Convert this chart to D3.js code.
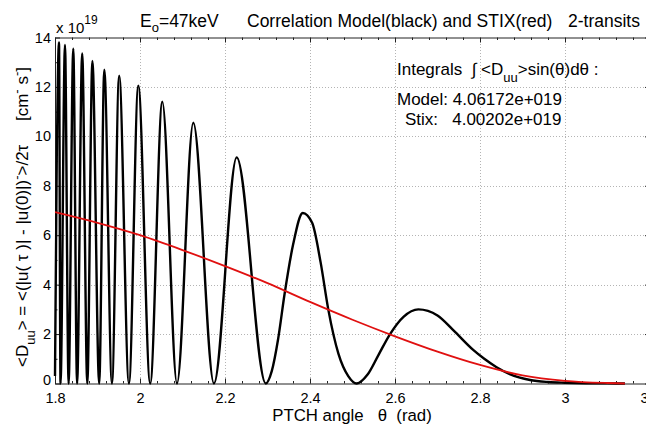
<!DOCTYPE html>
<html>
<head>
<meta charset="utf-8">
<script src="https://cdn.jsdelivr.net/npm/d3@7"></script>
<style>
html,body{margin:0;padding:0;background:#fff;overflow:hidden;}
svg{display:block;font-family:"Liberation Sans",Arial,sans-serif;}
</style>
</head>
<body>
<svg id="chart" width="646" height="424"></svg>
<script>
// ---- data ----
const xTicks = [1.8, 2.0, 2.2, 2.4, 2.6, 2.8, 3.0, 3.2];
const xTickLabels = ["1.8", "2", "2.2", "2.4", "2.6", "2.8", "3", "3.2"];
const yTicks = [0, 2, 4, 6, 8, 10, 12, 14];
const yTickLabels = ["0", "2", "4", "6", "8", "10", "12", "14"];

// Correlation model (black), values in units of 1e19
const modelTheta = [1.800, 1.8094, 1.813, 1.8235, 1.832, 1.843, 1.852, 1.864, 1.876, 1.888,
  1.904, 1.916, 1.934, 1.951, 1.974, 1.996, 2.024, 2.0525, 2.087, 2.1254, 2.174, 2.2275,
  2.296, 2.310, 2.325, 2.340, 2.360, 2.383, 2.405, 2.425, 2.443, 2.467, 2.490, 2.510,
  2.535, 2.561, 2.588, 2.620, 2.655, 2.700, 2.737, 2.784, 2.810, 2.839, 2.870, 2.918,
  2.960, 3.000, 3.050, 3.100, 3.141];
const modelD = [0.3, 13.8, 0, 13.7, 0, 13.55, 0, 13.35, 0, 13.05,
  0, 12.7, 0, 12.45, 0, 12.05, 0, 11.4, 0, 10.55, 0, 9.15,
  0, 0.5, 1.8, 3.6, 5.6, 6.9, 6.5, 4.9, 3.0, 1.2, 0.3, 0,
  0.35, 1.15, 1.99, 2.7, 3.0, 2.75, 2.16, 1.36, 1.0, 0.66, 0.38, 0.14,
  0.06, 0.03, 0.01, 0.005, 0];

// STIX (red)
const stixTheta = [1.8, 1.9, 2.0, 2.1, 2.2, 2.3, 2.4, 2.5, 2.6, 2.7, 2.8, 2.9, 3.0, 3.1, 3.141];
const stixD = [6.93, 6.5, 6.0, 5.4, 4.75, 4.06, 3.3, 2.58, 1.91, 1.29, 0.75, 0.33, 0.11, 0.02, 0.0];

const integralModel = "4.06172e+019";
const integralStix = "4.00202e+019";

// ---- drawing ----
const svg = d3.select("#chart");
const x = d3.scaleLinear().domain([1.8, 3.2]).range([55, 650]);
const y = d3.scaleLinear().domain([0, 14]).range([383.5, 37.5]);
const X0 = x.range()[0], X1 = x.range()[1], Y0 = y.range()[0], Y1 = y.range()[1];

// grid
const grid = svg.append("g").attr("stroke", "#b4b4b4").attr("stroke-width", 1)
  .attr("stroke-dasharray", "1,2").attr("shape-rendering", "crispEdges");
xTicks.slice(1, -1).forEach(t => grid.append("line")
  .attr("x1", Math.round(x(t)) + 0.5).attr("x2", Math.round(x(t)) + 0.5).attr("y1", Y0).attr("y2", Y1));
yTicks.slice(1, -1).forEach(t => grid.append("line")
  .attr("x1", X0).attr("x2", X1).attr("y1", Math.round(y(t)) + 0.5).attr("y2", Math.round(y(t)) + 0.5));

// axes (box) with inward ticks
const fmtX = d => xTickLabels[xTicks.findIndex(v => Math.abs(v - d) < 1e-9)];
const fmtY = d => yTickLabels[yTicks.findIndex(v => Math.abs(v - d) < 1e-9)];
const minorX = d3.range(1.84, 3.2, 0.04).filter(v => !xTicks.some(t => Math.abs(t - v) < 1e-6));
const minorY = [1, 3, 5, 7, 9, 11, 13];

const axBottom = svg.append("g").attr("transform", `translate(0,${Y0})`)
  .call(d3.axisBottom(x).tickValues(xTicks).tickFormat(fmtX).tickSizeInner(-5).tickSizeOuter(0).tickPadding(9));
const axTop = svg.append("g").attr("transform", `translate(0,${Y1})`)
  .call(d3.axisTop(x).tickValues(xTicks).tickFormat("").tickSizeInner(-5).tickSizeOuter(0));
const axLeft = svg.append("g").attr("transform", `translate(${X0},0)`)
  .call(d3.axisLeft(y).tickValues(yTicks).tickFormat(fmtY).tickSizeInner(-5).tickSizeOuter(0).tickPadding(4));
const axRight = svg.append("g").attr("transform", `translate(${X1},0)`)
  .call(d3.axisRight(y).tickValues(yTicks).tickFormat("").tickSizeInner(-5).tickSizeOuter(0));
svg.append("g").attr("transform", `translate(0,${Y0})`).call(d3.axisBottom(x).tickValues(minorX).tickFormat("").tickSizeInner(-2.5).tickSizeOuter(0)).select(".domain").remove();
svg.append("g").attr("transform", `translate(0,${Y1})`).call(d3.axisTop(x).tickValues(minorX).tickFormat("").tickSizeInner(-2.5).tickSizeOuter(0)).select(".domain").remove();
svg.append("g").attr("transform", `translate(${X0},0)`).call(d3.axisLeft(y).tickValues(minorY).tickFormat("").tickSizeInner(-2.5).tickSizeOuter(0)).select(".domain").remove();
svg.append("g").attr("transform", `translate(${X1},0)`).call(d3.axisRight(y).tickValues(minorY).tickFormat("").tickSizeInner(-2.5).tickSizeOuter(0)).select(".domain").remove();

svg.selectAll(".tick text").attr("font-size", 14.5).attr("font-family", "Liberation Sans, Arial, sans-serif").attr("fill", "#000");
axLeft.selectAll(".tick text").filter(d => d === 0).attr("dy", "0.1em");
svg.selectAll(".domain, .tick line").attr("stroke", "#222");

// curves
const line = d3.line().x(d => x(d[0])).y(d => y(d[1])).curve(d3.curveMonotoneX);
svg.append("path").datum(modelTheta.map((t, i) => [t, modelD[i]]))
  .attr("d", line).attr("fill", "none").attr("stroke", "#000").attr("stroke-width", 2.4).attr("stroke-linejoin", "round");
svg.append("path").datum(stixTheta.map((t, i) => [t, stixD[i]]))
  .attr("d", line).attr("fill", "none").attr("stroke", "#e01010").attr("stroke-width", 1.8);

// multiplier
const mult = svg.append("text").attr("x", 56).attr("y", 33).attr("font-size", 15);
mult.append("tspan").text("x 10");
mult.append("tspan").attr("dy", -9).attr("font-size", 12).text("19");

// title
const FS = 17.5;
const t1 = svg.append("text").attr("x", 140).attr("y", 27).attr("font-size", FS);
t1.append("tspan").text("E");
t1.append("tspan").attr("dy", 5).attr("font-size", 13).text("o");
t1.append("tspan").attr("dy", -5).text("=47keV");
svg.append("text").attr("x", 247).attr("y", 27).attr("font-size", FS).text("Correlation Model(black) and STIX(red)");
svg.append("text").attr("x", 568).attr("y", 27).attr("font-size", FS).text("2-transits");

// integrals annotation
const a1 = svg.append("text").attr("x", 397).attr("y", 75).attr("font-size", 17).style("white-space", "pre");
a1.append("tspan").text("Integrals  \u222B <D");
a1.append("tspan").attr("dy", 7).attr("font-size", 13).text("uu");
a1.append("tspan").attr("dy", -7).text(">sin(\u03B8)d\u03B8 :");
svg.append("text").attr("x", 397).attr("y", 105).attr("font-size", 17).text("Model: " + integralModel);
svg.append("text").attr("x", 405).attr("y", 125).attr("font-size", 17).style("white-space", "pre").text("Stix:   " + integralStix);

// x-axis title
svg.append("text").attr("x", 352).attr("y", 421).attr("text-anchor", "middle").attr("font-size", 16.8)
  .style("white-space", "pre").text("PTCH angle   \u03B8  (rad)");

// y-axis title
const yl = svg.append("text").attr("transform", "translate(28,217) rotate(-90)").attr("text-anchor", "middle")
  .attr("font-size", 17).style("white-space", "pre");
yl.append("tspan").text("<D");
yl.append("tspan").attr("dy", 7).attr("font-size", 13).text("uu");
yl.append("tspan").attr("dy", -7).text("> = <(|u( \u03C4 )| - |u(0)|)");
yl.append("tspan").attr("dy", -7).attr("font-size", 13).text("-");
yl.append("tspan").attr("dy", 7).text(">/2\u03C4     [cm");
yl.append("tspan").attr("dy", -7).attr("font-size", 13).text("-");
yl.append("tspan").attr("dy", 7).text(" s");
yl.append("tspan").attr("dy", -7).attr("font-size", 13).text("-");
yl.append("tspan").attr("dy", 7).text("]");
</script>
</body>
</html>
